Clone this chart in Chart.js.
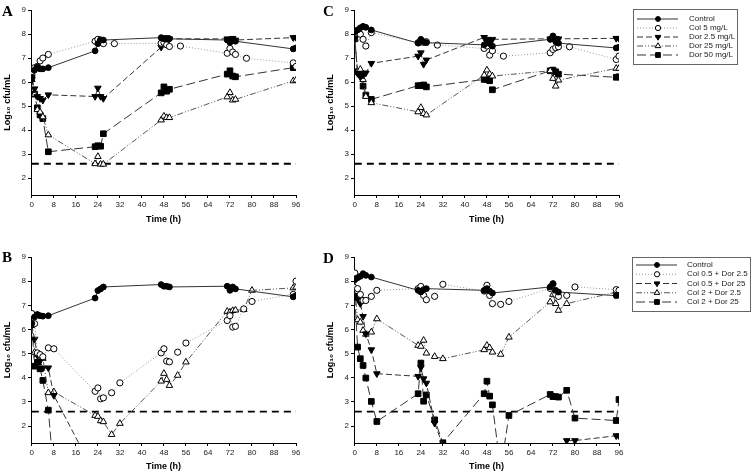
<!DOCTYPE html>
<html>
<head>
<meta charset="utf-8">
<script src="https://cdn.jsdelivr.net/npm/chart.js@4/dist/chart.umd.min.js"></script>
<style>
body { margin: 0; background: #fff; }
canvas { position: absolute; }
</style>
</head>
<body>
<canvas id="cA" style="left:0;top:0" width="323" height="238"></canvas>
<canvas id="cC" style="left:323px;top:0" width="429" height="238"></canvas>
<canvas id="cB" style="left:0;top:238px" width="323" height="238"></canvas>
<canvas id="cD" style="left:323px;top:238px" width="429" height="238"></canvas>
<script>
// sampling times (h)
const tStd = [0,1,2,3,4,6,23,24,25,26,47,48,49,50,71,72,73,74,95,96];
const tColAC = [0,1,2,3,4,6,23,24,25,26,30,47,48,49,50,54,71,72,73,74,78,95,96];
const tBD = [0,1,2,3,4,6,8,23,24,25,26,29,32,47,48,49,50,53,56,71,72,73,74,77,80,95,96];
const tBD2 = [0,1,2,3,4,6,8,23,24,25,26,29,32,47,48,49,50,53,56,71,72,73,74,77,95,96];
const tBdor2_5 = [0,1,2,3,4,6,8,23];
const tBdor50 = [0,1,2,3,4,6,8];

const xTicks = [0,8,16,24,32,40,48,56,64,72,80,88,96];
const yTicks = [2,3,4,5,6,7,8,9];
const lod = 2.6;

const labelsAC = ['Control', 'Col 5 mg/L', 'Dor 2.5 mg/L', 'Dor 25 mg/L', 'Dor 50 mg/L'];
const labelsD = ['Control', 'Col 0.5 + Dor 2.5', 'Col 0.5 + Dor 25', 'Col 2 + Dor 2.5', 'Col 2 + Dor 25'];

// panel A
const ctrlA = [6.2,6.5,6.62,6.55,6.55,6.6,7.3,7.6,7.75,7.75,7.85,7.8,7.8,7.8,7.75,7.65,7.75,7.7,7.38,7.42];
const col5A = [6.3,6.6,6.65,6.88,7.0,7.15,7.7,7.78,7.75,7.6,7.6,7.62,7.65,7.55,7.48,7.5,7.2,7.4,7.25,7.15,6.99,6.8,6.65];
const dor2_5A = [6.1,5.72,5.4,5.32,5.25,5.47,5.4,5.75,5.4,5.32,7.45,7.68,7.85,7.8,7.8,7.75,7.82,7.75,7.85,7.86];
const dor25A = [6.1,5.5,4.85,4.75,4.55,3.8,2.6,2.9,2.58,2.58,4.42,4.58,4.52,4.52,5.38,5.56,5.25,5.28,6.05,6.08];
const dor50A = [6.25,5.5,4.93,4.63,4.48,3.1,3.31,3.35,3.33,3.85,5.55,5.8,5.62,5.7,6.33,6.47,6.25,6.22,6.6,6.62];

// panel C
const ctrlC = [8.1,8.17,8.26,8.32,8.28,8.17,7.62,7.78,7.68,7.64,7.55,7.64,7.6,7.5,7.78,7.92,7.68,7.62,7.42,7.45];
const col5C = [8.1,8.14,7.99,7.78,7.5,8.06,7.64,7.68,7.65,7.68,7.54,7.4,7.5,7.12,7.3,7.08,7.22,7.36,7.43,7.47,7.47,6.94,7.08];
const dor2_5C = [7.82,6.36,6.22,6.29,6.38,6.78,7.08,7.22,6.74,6.92,7.86,7.78,7.72,7.78,7.8,7.83,7.82,7.8,7.82,7.82];
const dor25C = [7.8,6.43,6.53,6.1,5.4,5.14,4.76,4.94,4.69,4.63,6.29,6.5,6.33,6.25,6.47,6.15,5.83,6.08,6.57,6.57];
const dor50C = [7.8,6.43,6.36,5.83,5.46,5.28,5.85,5.85,5.88,5.8,6.11,6.11,6.06,5.68,6.47,6.5,6.43,6.33,6.2,6.22];

// panel B
const ctrlB = [6.25,6.52,6.62,6.57,6.55,6.57,7.3,7.61,7.68,7.76,7.86,7.79,7.79,7.76,7.79,7.62,7.76,7.68,7.35,7.4];
const col5B = [6.66,6.24,5.03,4.96,4.87,5.24,5.2,3.44,3.58,3.13,3.17,3.38,3.79,5.03,5.2,4.69,4.66,5.06,5.44,6.37,6.57,6.1,6.13,6.85,7.16,7.45,8.0];
const dor2_5B = [6.2,5.6,4.95,4.7,4.4,4.41,3.27,0];
const dor25B = [6.2,5.05,4.95,4.85,4.8,3.38,3.42,2.44,2.4,2.22,2.18,1.65,2.11,3.86,4.18,3.93,3.68,4.1,4.65,6.75,6.72,6.78,6.8,6.82,7.62,7.72,7.75];
const dor50B = [6.2,4.48,4.64,4.37,3.89,2.66,0];

// panel D
const ctrlD = [8.06,8.14,8.2,8.31,8.24,8.17,7.62,7.55,7.65,7.69,7.62,7.69,7.59,7.51,7.76,7.9,7.62,7.55,7.4,7.42];
const col05dor2_5 = [8.34,7.69,7.45,7.2,7.2,7.37,7.62,7.69,7.78,7.41,7.23,7.37,7.87,7.59,7.83,7.41,7.07,7.04,7.16,7.7,7.88,7.45,7.37,7.41,7.76,7.65,7.62];
const col05dor25 = [7.34,7.27,7.07,6.54,5.82,5.16,4.17,4.06,4.42,3.96,3.78,2.12,1.2,null,null,null,null,null,null,null,null,null,null,1.4,1.4,1.6,1.6];
const col2dor2_5 = [7.76,6.4,6.3,5.96,5.8,5.89,6.44,5.34,5.3,5.55,5.02,4.88,4.79,5.16,5.34,5.24,5.06,4.97,5.68,7.14,7.45,7.07,6.79,7.07,7.55,7.5];
const col2dor25 = [7.37,5.27,4.79,4.51,3.99,3.02,2.19,3.34,4.61,3.03,3.29,2.26,1.31,3.34,3.86,3.24,2.88,0.2,2.44,3.31,3.22,3.22,3.2,3.48,2.33,2.23,3.1];

Chart.defaults.font.family = 'Arial, "Liberation Sans", sans-serif';

// line + marker look per series slot
const looks = [
  { borderColor: '#333', borderDash: [], pointStyle: 'circle', pointRadius: 2.9, pointBackgroundColor: '#000' },
  { borderColor: '#999', borderDash: [1, 2], pointStyle: 'circle', pointRadius: 3.1, pointBackgroundColor: '#fff' },
  { borderColor: '#333', borderDash: [6, 3], pointStyle: 'triangle', pointRadius: 3.8, pointRotation: 180, pointBackgroundColor: '#000' },
  { borderColor: '#555', borderDash: [6, 2, 1, 2, 1, 2], pointStyle: 'triangle', pointRadius: 3.8, pointBackgroundColor: '#fff' },
  { borderColor: '#333', borderDash: [9, 4], pointStyle: 'rect', pointRadius: 4, pointBackgroundColor: '#000' }
];

function pts(t, v) { return t.map((x, i) => ({ x: x, y: v[i] })); }

function series(labels, list) {
  const out = list.map((s, i) => Object.assign({
    label: labels[i], data: pts(s[0], s[1]), borderWidth: 1, pointBorderColor: '#000',
    pointBorderWidth: 1, tension: 0, fill: false, spanGaps: false
  }, looks[i]));
  out.push({ label: '', data: [{ x: 0, y: lod }, { x: 96, y: lod }], borderColor: '#000',
    borderWidth: 1.8, borderDash: [7, 5], pointRadius: 0, fill: false });
  return out;
}

const panelLabel = {
  id: 'panelLabel',
  afterDraw(chart, args, o) {
    const ctx = chart.ctx;
    ctx.save();
    ctx.font = 'bold 15px "Liberation Serif", "Times New Roman", serif';
    ctx.fillStyle = '#000';
    ctx.textBaseline = 'middle';
    ctx.fillText(o.text, o.x, o.y);
    ctx.restore();
  }
};

const legendBox = {
  id: 'legendBox',
  afterDraw(chart, args, o) {
    if (!o.show) return;
    const ctx = chart.ctx;
    ctx.save();
    ctx.strokeStyle = '#666';
    ctx.lineWidth = 1;
    ctx.strokeRect(o.x + 0.5, o.y + 0.5, o.w, o.h);
    chart.data.datasets.filter(d => d.label).forEach((d, i) => {
      const y = o.y + o.first + i * o.step;
      ctx.beginPath();
      ctx.setLineDash(d.borderDash);
      ctx.strokeStyle = d.borderColor;
      ctx.lineWidth = d.borderWidth;
      ctx.moveTo(o.x + 4, y);
      ctx.lineTo(o.x + 45, y);
      ctx.stroke();
      ctx.setLineDash([]);
      ctx.fillStyle = d.pointBackgroundColor;
      ctx.strokeStyle = '#000';
      ctx.lineWidth = 1;
      Chart.helpers.drawPoint(ctx, { pointStyle: d.pointStyle, radius: d.pointRadius * 0.85,
        rotation: d.pointRotation || 0, borderWidth: 1 }, o.x + 25, y);
      ctx.fillStyle = '#222';
      ctx.font = '8px Arial, "Liberation Sans", sans-serif';
      ctx.textBaseline = 'middle';
      ctx.fillText(d.label, o.x + o.tx, y);
    });
    ctx.restore();
  }
};

function makeChart(id, sets, c) {
  return new Chart(document.getElementById(id), {
    type: 'line',
    data: { datasets: sets },
    options: {
      responsive: false,
      animation: false,
      layout: { padding: { top: c.top, right: c.right, left: 0, bottom: 0 } },
      plugins: {
        legend: { display: false },
        tooltip: { enabled: false },
        panelLabel: c.letter,
        legendBox: c.legend || { show: false }
      },
      scales: {
        x: {
          type: 'linear', min: -0.3, max: 96,
          afterBuildTicks: s => { s.ticks = xTicks.map(v => ({ value: v })); },
          afterFit: s => { s.height = c.xh; },
          grid: { drawOnChartArea: false, drawTicks: true, tickLength: 3, color: '#000' },
          border: { display: true, color: '#000', width: 1 },
          ticks: { font: { size: 8 }, color: '#222', padding: 2, maxRotation: 0 },
          title: { display: true, text: 'Time (h)', color: '#000', font: { size: 9, weight: 'bold' },
            padding: { top: 0, bottom: c.tpad } }
        },
        y: {
          type: 'linear', min: 1.3, max: 9,
          afterBuildTicks: s => { s.ticks = yTicks.map(v => ({ value: v })); },
          afterFit: s => { s.width = 31; },
          grid: { drawOnChartArea: false, drawTicks: true, tickLength: 3, color: '#000' },
          border: { display: true, color: '#000', width: 1 },
          ticks: { font: { size: 8 }, color: '#222', padding: 2 },
          title: { display: true, text: 'Log₁₀ cfu/mL', color: '#000', font: { size: 9, weight: 'bold' },
            padding: { top: 2.6, bottom: 0 } }
        }
      }
    },
    plugins: [panelLabel, legendBox]
  });
}

makeChart('cA', series(labelsAC, [[tStd, ctrlA], [tColAC, col5A], [tStd, dor2_5A], [tStd, dor25A], [tStd, dor50A]]),
  { top: 10, right: 27, xh: 43, tpad: 12.6, letter: { text: 'A', x: 2, y: 12 } });

makeChart('cC', series(labelsAC, [[tStd, ctrlC], [tColAC, col5C], [tStd, dor2_5C], [tStd, dor25C], [tStd, dor50C]]),
  { top: 10, right: 133, xh: 43, tpad: 12.6, letter: { text: 'C', x: 0, y: 12 },
    legend: { show: true, x: 310, y: 9, w: 104, h: 55, first: 10, step: 9, tx: 56 } });

makeChart('cB', series(labelsAC, [[tStd, ctrlB], [tBD, col5B], [tBdor2_5, dor2_5B], [tBD, dor25B], [tBdor50, dor50B]]),
  { top: 19, right: 27, xh: 33, tpad: 4, letter: { text: 'B', x: 2, y: 20 } });

makeChart('cD', series(labelsD, [[tStd, ctrlD], [tBD, col05dor2_5], [tBD, col05dor25], [tBD2, col2dor2_5], [tBD, col2dor25]]),
  { top: 19, right: 133, xh: 33, tpad: 4, letter: { text: 'D', x: 0, y: 21 },
    legend: { show: true, x: 309, y: 19, w: 118, h: 54, first: 8, step: 9.25, tx: 55 } });
</script>
</body>
</html>
